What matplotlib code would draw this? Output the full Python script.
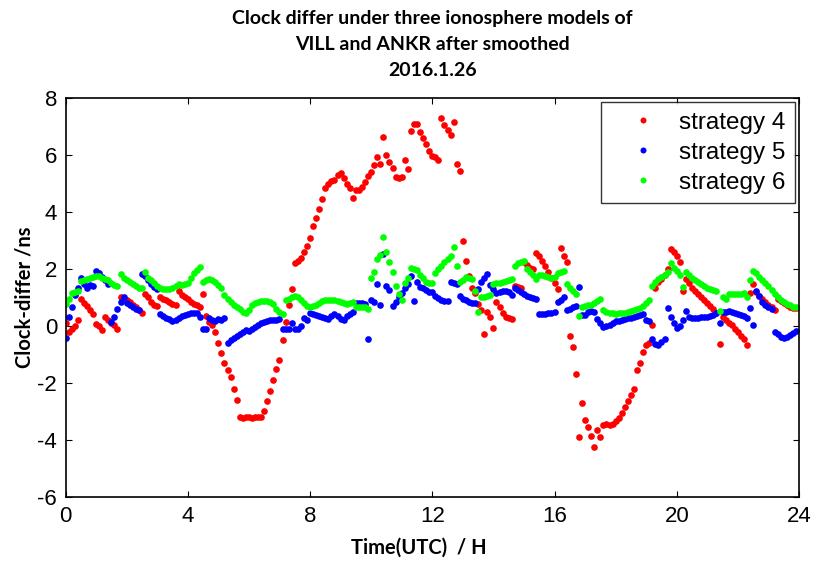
import numpy as np
import matplotlib
matplotlib.use("Agg")
import matplotlib.pyplot as plt

plt.rcParams['axes.unicode_minus'] = False

# epoch grid: one sample every 0.1 h over the day
hours = np.arange(240) / 10.0

# strategy 4 clock difference (ns), ten samples per hour
s4 = [
    0.10, -0.20, -0.10, 0.00, 0.20, 0.95, 0.80, 0.70, 0.55, 0.42,
    0.08, 0.00, -0.15, 0.30, 0.20, 0.10, 0.05, -0.10, 1.00, 0.95,
    0.90, 0.85, 0.75, 0.65, 0.55, 0.47, 1.12, 1.00, 0.85, 0.75,
    0.70, 1.00, 0.95, 0.90, 0.85, 0.77, 0.75, 1.23, 1.10, 1.00,
    0.95, 0.85, 0.77, 0.72, 0.65, 1.14, 0.35, 0.15, 0.02, -0.20,
    -0.60, -0.95, -1.30, -1.55, -1.80, -2.20, -2.60, -3.20, -3.25, -3.20,
    -3.20, -3.22, -3.20, -3.20, -3.20, -3.00, -2.65, -2.30, -1.90, -1.50,
    -1.20, -0.50, 0.15, 0.75, 1.30, 2.20, 2.30, 2.40, 2.60, 2.80,
    3.10, 3.50, 3.80, 4.10, 4.45, 4.85, 5.00, 5.08, 5.12, 5.30,
    5.38, 5.20, 5.00, 4.85, 4.50, 4.78, 4.78, 4.88, 5.05, 5.28,
    5.40, 5.65, 5.95, 5.70, 6.65, 6.00, 5.76, 5.55, 5.25, 5.20,
    5.22, 5.84, 5.53, 6.85, 7.10, 7.10, 6.82, 6.60, 6.38, 6.15,
    5.97, 5.95, 5.82, 7.29, 7.05, 6.88, 6.70, 7.15, 5.70, 5.44,
    3.00, 2.30, 1.75, 1.35, 1.15, 0.77, 0.55, -0.29, 0.50, 0.30,
    -0.06, 0.85, 0.65, 0.45, 0.32, 0.28, 0.24, 1.40, 1.37, 1.34,
    2.25, 2.15, 2.05, 2.00, 2.55, 2.45, 2.30, 2.10, 1.90, 1.70,
    1.50, 1.30, 2.75, 2.45, 2.25, -0.35, -0.75, -1.70, -3.90, -2.70,
    -3.30, -3.55, -3.85, -4.25, -3.64, -3.90, -3.47, -3.45, -3.47, -3.45,
    -3.35, -3.22, -3.05, -2.85, -2.62, -2.43, -2.23, -1.55, -1.30, -0.90,
    -0.68, -0.60, 0.04, 1.35, 1.55, 1.65, 1.78, 2.00, 2.72, 2.60,
    2.45, 2.23, 1.23, 1.65, 1.50, 1.35, 1.23, 1.12, 1.00, 0.90,
    0.80, 0.70, 0.60, 0.47, -0.62, 0.30, 0.22, 0.12, 0.05, -0.10,
    -0.20, -0.35, -0.45, -0.67, 1.17, 1.47, 1.20, 1.05, 0.95, 0.85,
    0.75, 0.65, 0.55, 0.95, 0.88, 0.80, 0.72, 0.68, 0.64, 0.62,
]

# strategy 5
s5 = [
    -0.43, 0.30, 0.65, 1.10, 1.35, 1.70, 1.47, 1.35, 1.45, 1.41,
    1.94, 1.85, 1.72, 1.60, 1.47, 0.15, 0.32, 0.58, 0.85, 1.00,
    0.80, 0.72, 0.65, 0.60, 0.55, 1.82, 1.75, 1.60, 1.48, 1.38,
    1.29, 0.41, 0.35, 0.29, 0.25, 0.18, 0.22, 0.28, 0.35, 0.40,
    0.42, 0.45, 0.47, 0.45, 0.30, -0.10, -0.12, 0.28, 0.20, 0.18,
    0.25, 0.22, 0.28, -0.59, -0.50, -0.42, -0.35, -0.29, -0.22, -0.15,
    -0.18, -0.12, -0.05, 0.03, 0.10, 0.15, 0.18, 0.20, 0.20, 0.22,
    0.24, -0.12, -0.12, -0.10, 0.12, -0.12, -0.10, 0.00, 0.29, 0.20,
    0.45, 0.41, 0.38, 0.35, 0.30, 0.28, 0.24, 0.35, 0.41, 0.35,
    0.25, 0.22, 0.35, 0.42, 0.50, 0.80, 0.82, 0.80, 0.78, -0.47,
    0.90, 0.85, 1.47, 0.74, 2.53, 1.41, 1.26, 0.71, 0.85, 1.00,
    1.15, 1.35, 1.49, 1.76, 0.88, 1.53, 1.38, 1.32, 1.28, 1.20,
    1.18, 1.05, 0.98, 0.90, 0.88, 0.88, 1.53, 1.50, 1.47, 1.05,
    0.95, 0.90, 0.85, 0.82, 0.80, 1.30, 1.53, 1.70, 1.82, 1.45,
    1.30, 1.17, 1.20, 1.23, 1.23, 1.18, 1.10, 1.35, 1.28, 1.20,
    1.12, 1.06, 1.00, 0.97, 0.94, 0.42, 0.41, 0.43, 0.45, 0.47,
    0.50, 0.85, 0.92, 1.00, 0.55, 0.58, 0.65, 0.70, 1.37, 0.38,
    0.40, 0.48, 0.53, 0.50, 0.25, 0.12, -0.05, 0.00, 0.05, 0.10,
    0.16, 0.18, 0.22, 0.25, 0.27, 0.29, 0.32, 0.35, 0.38, 0.41,
    0.20, 0.18, -0.47, -0.65, -0.68, -0.57, -0.45, 0.62, 0.30, 0.10,
    -0.06, 0.00, 0.20, 0.53, 0.30, 0.28, 0.27, 0.28, 0.30, 0.32,
    0.33, 0.35, 0.40, 0.45, 0.12, 0.48, 0.50, 0.53, 0.50, 0.46,
    0.43, 0.40, 0.35, 0.29, 0.62, 0.02, 1.23, 1.05, 0.85, 0.75,
    0.68, 0.58, -0.20, -0.28, -0.38, -0.41, -0.38, -0.32, -0.25, -0.18,
]

# strategy 6
s6 = [
    0.77, 0.94, 1.15, 1.21, 1.24, 1.59, 1.62, 1.65, 1.68, 1.72,
    1.76, 1.74, 1.70, 1.65, 1.60, 1.52, 1.45, 1.41, 1.82, 1.70,
    1.60, 1.53, 1.47, 1.40, 1.35, 1.32, 1.88, 1.70, 1.60, 1.50,
    1.40, 1.33, 1.30, 1.30, 1.30, 1.33, 1.40, 1.49, 1.45, 1.47,
    1.50, 1.70, 1.85, 1.95, 2.06, 1.53, 1.60, 1.65, 1.60, 1.53,
    1.45, 1.32, 1.10, 0.95, 0.85, 0.75, 0.65, 0.58, 0.50, 0.47,
    0.55, 0.75, 0.82, 0.85, 0.88, 0.88, 0.88, 0.85, 0.77, 0.60,
    0.50, 0.41, 0.90, 0.95, 1.00, 1.05, 1.00, 0.90, 0.80, 0.70,
    0.68, 0.70, 0.75, 0.82, 0.88, 0.90, 0.90, 0.92, 0.90, 0.88,
    0.85, 0.80, 0.78, 0.82, 0.85, 0.68, 0.65, 0.68, 0.65, 0.60,
    1.70, 1.90, 2.35, 2.50, 3.12, 2.60, 2.25, 1.90, 1.41, 1.14,
    0.90, 1.50, 1.70, 2.03, 2.00, 1.95, 1.80, 1.70, 1.55, 1.50,
    1.50, 1.85, 2.00, 2.12, 2.23, 2.35, 2.47, 2.76, 2.12, 1.53,
    1.60, 1.72, 1.70, 1.65, 1.23, 0.50, 1.00, 1.00, 1.05, 1.08,
    1.47, 1.50, 1.52, 1.55, 1.58, 1.60, 1.65, 2.12, 2.20, 2.25,
    2.29, 2.00, 1.90, 1.78, 1.65, 1.80, 1.78, 1.75, 1.72, 1.70,
    1.73, 1.85, 1.90, 1.94, 1.47, 1.35, 1.23, 1.14, 0.35, 0.67,
    0.70, 0.72, 0.75, 0.79, 0.88, 0.94, 0.55, 0.50, 0.47, 0.45,
    0.43, 0.44, 0.45, 0.47, 0.50, 0.52, 0.55, 0.58, 0.62, 0.70,
    0.80, 0.90, 1.40, 1.56, 1.65, 1.72, 1.78, 1.90, 2.20, 2.05,
    1.94, 1.80, 1.37, 1.88, 1.80, 1.70, 1.62, 1.55, 1.48, 1.42,
    1.35, 1.29, 1.26, 1.23, 0.53, 1.00, 0.94, 1.14, 1.13, 1.12,
    1.12, 1.14, 1.17, 1.00, 1.60, 1.94, 1.85, 1.72, 1.62, 1.52,
    1.40, 1.25, 1.12, 1.00, 0.92, 0.85, 0.77, 0.72, 0.68, 0.65,
]

labels = ['strategy 4', 'strategy 5', 'strategy 6']
colors = ['#ff0000', '#0000ff', '#00ff00']
xticks = [0, 4, 8, 12, 16, 20, 24]
yticks = [-6, -4, -2, 0, 2, 4, 6, 8]

fig = plt.figure(figsize=(8.13, 5.61), dpi=100)
ax = fig.add_axes([0.0806, 0.1146, 0.9022, 0.7102])

for series, col, lab in zip([s4, s5, s6], colors, labels):
    ax.plot(hours, series, linestyle='none', marker='o', markersize=4.8,
            markeredgewidth=0, color=col, label=lab)

ax.set_xlim(0, 24)
ax.set_ylim(-6, 8)
ax.set_xticks(xticks)
ax.set_yticks(yticks)
ax.tick_params(direction='in', length=4, width=0.8, top=True, right=True,
               labelsize=16)
ax.tick_params(axis='x', pad=7)
ax.tick_params(axis='y', pad=6)
for lbl in ax.get_xticklabels() + ax.get_yticklabels():
    lbl.set_fontfamily('Liberation Sans')
for sp in ax.spines.values():
    sp.set_linewidth(1.2)

ax.set_xlabel('Time(UTC)  / H', fontsize=14.5, fontweight='bold',
              family='Lato')
ax.xaxis.set_label_coords(0.482, -0.102)
ax.set_ylabel('Clock-differ /ns', fontsize=14.5, fontweight='bold',
              family='Lato')
ax.yaxis.set_label_coords(-0.042, 0.5)
ax.set_title('Clock differ under three ionosphere models of\n'
             'VILL and ANKR after smoothed\n2016.1.26',
             fontsize=14, fontweight='bold', family='Lato',
             linespacing=1.65, pad=16)

leg = ax.legend(loc='upper right', frameon=True, fancybox=False,
                edgecolor='black', borderpad=0.4, labelspacing=0.33,
                handlelength=2.6, handletextpad=0.2, borderaxespad=0.15,
                markerscale=0.9,
                prop={'family': 'Liberation Sans', 'size': 17.5})
leg.get_frame().set_linewidth(1.0)

fig.savefig('out.png', dpi=100)
